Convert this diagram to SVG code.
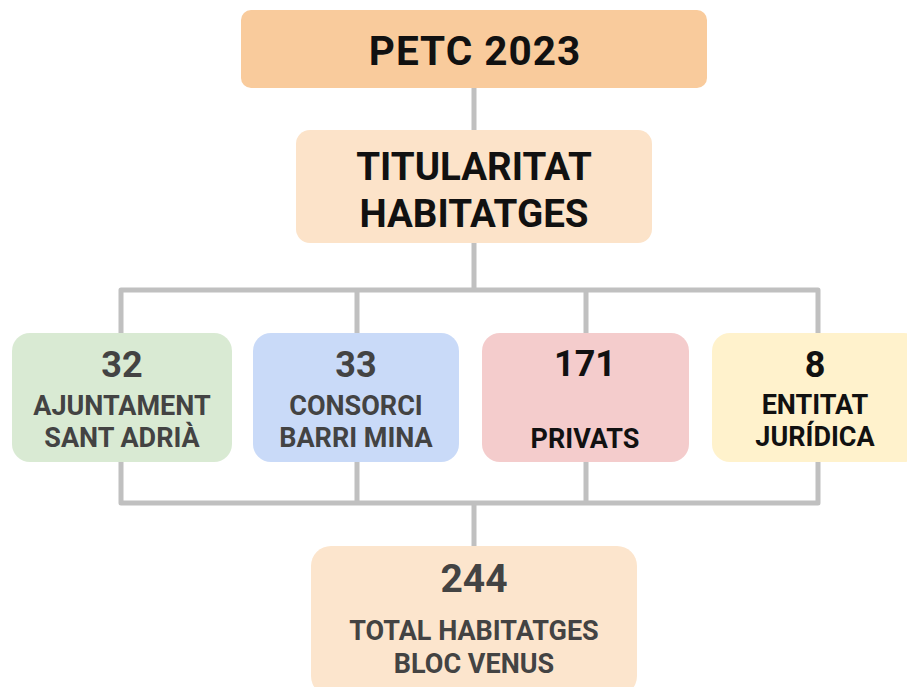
<svg xmlns="http://www.w3.org/2000/svg" width="907" height="687" viewBox="0 0 907 687">
<style>
text{font-family:Roboto,"Liberation Sans",sans-serif;font-weight:bold;text-anchor:middle}
.conn{fill:none;stroke:#c0c0c0;stroke-width:5;stroke-linejoin:round}
.big{font-size:38.5px;fill:#111}
.num{font-size:36px;fill:#434343}
.lbl{font-size:27px;fill:#434343}
.numk{font-size:36px;fill:#111}
.lblk{font-size:27px;fill:#111}
</style>
<rect width="907" height="687" fill="#ffffff"/>
<g id="connectors">
<path class="conn" d="M474 88V130M474 243V290M121 333V290H818V333M357 290V333M586 290V333"/>
<path class="conn" d="M121 462V503H818V462M357 462V503M586 462V503M474 503V546"/>
</g>
<g id="petc">
<rect x="241" y="10" width="466" height="78" rx="10" fill="#f9cb9c"/>
<text class="big" x="475" y="65" style="font-size:40.5px;letter-spacing:1px">PETC 2023</text>
</g>
<g id="titularitat">
<rect x="296" y="130" width="356" height="113" rx="14" fill="#fce3c9"/>
<text class="big" x="474" y="180">TITULARITAT</text>
<text class="big" x="474" y="227">HABITATGES</text>
</g>
<g id="ajuntament">
<rect x="12" y="333" width="220" height="129" rx="18" fill="#d9ead3"/>
<text class="num" x="122" y="377">32</text>
<text class="lbl" x="122" y="415">AJUNTAMENT</text>
<text class="lbl" x="122" y="447">SANT ADRIÀ</text>
</g>
<g id="consorci">
<rect x="253" y="333" width="206" height="129" rx="18" fill="#c9daf8"/>
<text class="num" x="356" y="377">33</text>
<text class="lbl" x="356" y="415">CONSORCI</text>
<text class="lbl" x="356" y="447">BARRI MINA</text>
</g>
<g id="privats">
<rect x="482" y="333" width="207" height="129" rx="18" fill="#f4cccc"/>
<text class="numk" x="585" y="376">171</text>
<text class="lblk" x="585" y="448">PRIVATS</text>
</g>
<g id="entitat">
<rect x="712" y="333" width="210" height="129" rx="18" fill="#fff2cc"/>
<text class="numk" x="815" y="377">8</text>
<text class="lblk" x="815" y="414">ENTITAT</text>
<text class="lblk" x="815" y="446">JURÍDICA</text>
</g>
<g id="total">
<rect x="311" y="546" width="326" height="150" rx="20" fill="#fce5cd"/>
<text class="num" x="474" y="592" style="font-size:39px">244</text>
<text class="lbl" x="474" y="640">TOTAL HABITATGES</text>
<text class="lbl" x="474" y="673">BLOC VENUS</text>
</g>
</svg>
